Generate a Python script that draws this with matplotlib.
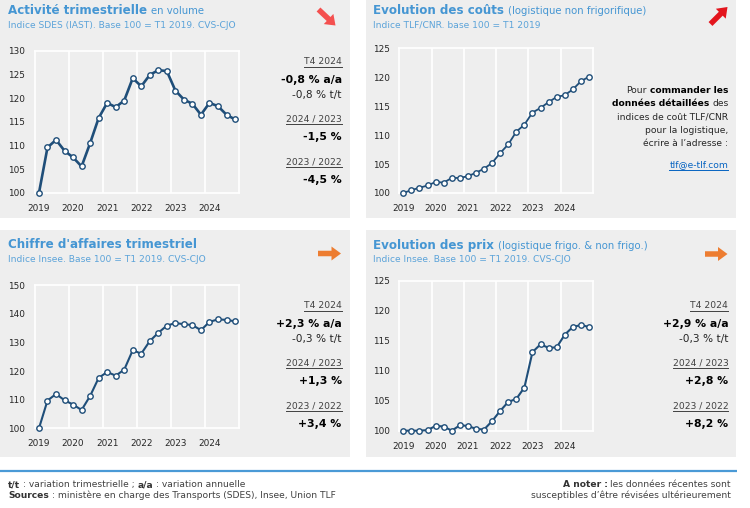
import matplotlib
matplotlib.use('Agg')
import matplotlib.pyplot as plt
from matplotlib.patches import Rectangle, FancyArrow

# données trimestrielles T1 2019 -> T4 2024
years = ['2019', '2020', '2021', '2022', '2023', '2024']

activite = [100.0, 109.6, 111.2, 108.9, 107.5, 105.6, 110.5, 115.8,
            119.0, 118.1, 119.5, 124.2, 122.5, 124.9, 125.9, 125.7,
            121.6, 119.7, 118.8, 116.5, 119.0, 118.3, 116.5, 115.5]
couts = [100.0, 100.5, 100.9, 101.3, 101.9, 101.8, 102.6, 102.6,
         102.9, 103.5, 104.2, 105.2, 106.9, 108.4, 110.6, 111.8,
         113.9, 114.7, 115.7, 116.6, 116.9, 117.9, 119.3, 120.1]
chiffre = [100.0, 109.7, 112.0, 109.8, 108.3, 106.4, 111.3, 117.6,
           119.7, 118.4, 120.5, 127.3, 126.1, 130.5, 133.4, 135.9,
           136.8, 136.4, 136.1, 134.3, 137.2, 138.1, 137.9, 137.4]
prix = [100.0, 100.0, 100.0, 100.1, 100.8, 100.7, 100.0, 100.9,
        100.8, 100.3, 100.2, 101.6, 103.3, 104.8, 105.3, 107.2,
        113.1, 114.4, 113.8, 113.9, 116.0, 117.3, 117.6, 117.3]

stats_activite = ['T4 2024', '-0,8 % a/a', '-0,8 % t/t', '2024 / 2023', '-1,5 %', '2023 / 2022', '-4,5 %']
stats_chiffre = ['T4 2024', '+2,3 % a/a', '-0,3 % t/t', '2024 / 2023', '+1,3 %', '2023 / 2022', '+3,4 %']
stats_prix = ['T4 2024', '+2,9 % a/a', '-0,3 % t/t', '2024 / 2023', '+2,8 %', '2023 / 2022', '+8,2 %']

W, H = 750, 508
TITLE = '#4596d3'
SUB = '#5ba3d9'
NAVY = '#1f4e79'
PANEL = '#eeeeee'
TXT = '#262626'

fig = plt.figure(figsize=(W / 100, H / 100), dpi=100)
bg = fig.add_axes([0, 0, 1, 1])
bg.set_xlim(0, W)
bg.set_ylim(H, 0)
bg.axis('off')
renderer = fig.canvas.get_renderer()

# fonds des panneaux
for x0, y0, x1, y1 in [(0, 0, 350, 218), (366, 0, 736, 218),
                       (0, 230, 350, 456.7), (366, 230, 736, 456.7)]:
    bg.add_patch(Rectangle((x0, y0), x1 - x0, y1 - y0, color=PANEL, lw=0))
bg.plot([0, 736.5], [471, 471], color='#4a9ad6', lw=1.6, solid_capstyle='butt')


def chart(l, t, r, b, values, ylo, yhi, ystep, lw):
    ax = fig.add_axes([l / W, 1 - b / H, (r - l) / W, (b - t) / H])
    ax.set_facecolor('none')
    x = range(len(values))
    ax.plot(x, values, color=NAVY, lw=lw, marker='o', ms=3.9, mfc='white',
            mec=NAVY, mew=1.0, clip_on=False, zorder=3)
    ax.set_xlim(-0.5, len(values) - 0.5)
    ax.set_ylim(ylo, yhi)
    ax.set_yticks(range(ylo, yhi + 1, ystep))
    ax.set_xticks(range(0, len(values), 4), years)
    ax.set_xticks([3.5 + 4 * k for k in range(5)], minor=True)
    ax.grid(True, which='minor', axis='x', color='white', lw=1.2)
    ax.tick_params(which='both', length=0, labelsize=6.4, colors=TXT)
    ax.tick_params(axis='y', pad=7)
    ax.tick_params(axis='x', pad=8)
    for s in ax.spines.values():
        s.set_color('white')
        s.set_linewidth(1.2)
    return ax


chart(34.7, 50.7, 239.3, 193, activite, 100, 130, 5, 1.9)
chart(399.3, 48.3, 593, 193, couts, 100, 125, 5, 1.3)
chart(34.7, 285.3, 239.3, 428.3, chiffre, 100, 150, 10, 1.5)
chart(399.3, 280.7, 593, 430.7, prix, 100, 125, 5, 1.5)


def segs(x, y, parts, ha='left', underline=False):
    # parts: (texte, taille, graisse, couleur), séparés par une espace
    items = []
    for s, size, weight, color in parts:
        t = bg.text(0, y, s, fontsize=size, fontweight=weight, color=color,
                    ha='left', va='center')
        w = t.get_window_extent(renderer).width
        items.append((t, w, size))
    gaps = [size * 0.318 * 100 / 72 for _, _, size in items[:-1]]
    total = sum(w for _, w, _ in items) + sum(gaps)
    cx = x if ha == 'left' else x - total
    for i, (t, w, size) in enumerate(items):
        t.set_x(cx)
        if underline:
            bb = t.get_window_extent(renderer)
            yy = H - bb.y0 + 0.5
            bg.plot([cx, cx + w], [yy, yy], color=t.get_color(), lw=0.7)
        cx += w + (gaps[i] if i < len(gaps) else 0)


def stats(xr, y0, vals):
    offs = [0, 18.2, 33, 56.7, 74.8, 100, 117.8]
    kinds = ['h', 'b', 'n', 'h', 'b', 'h', 'b']
    for off, kind, s in zip(offs, kinds, vals):
        if kind == 'h':
            segs(xr, y0 + off, [(s, 6.6, 'normal', '#404040')], ha='right', underline=True)
        elif kind == 'b':
            segs(xr, y0 + off, [(s, 7.8, 'bold', 'black')], ha='right')
        else:
            segs(xr, y0 + off, [(s, 7.6, 'normal', TXT)], ha='right')


# titres
segs(8, 11, [('Activité trimestrielle', 8.6, 'bold', TITLE), ('en volume', 7.3, 'normal', TITLE)])
segs(8, 25, [('Indice SDES (IAST). Base 100 = T1 2019. CVS-CJO', 6.6, 'normal', SUB)])
segs(373, 11, [('Evolution des coûts', 8.6, 'bold', TITLE), ('(logistique non frigorifique)', 7.3, 'normal', TITLE)])
segs(373, 25, [('Indice TLF/CNR. base 100 = T1 2019', 6.6, 'normal', SUB)])
segs(8, 245, [("Chiffre d'affaires trimestriel", 8.6, 'bold', TITLE)])
segs(8, 260, [('Indice Insee. Base 100 = T1 2019. CVS-CJO', 6.6, 'normal', SUB)])
segs(373, 245.7, [('Evolution des prix', 8.6, 'bold', TITLE), ('(logistique frigo. & non frigo.)', 7.3, 'normal', TITLE)])
segs(373, 259.7, [('Indice Insee. Base 100 = T1 2019. CVS-CJO', 6.6, 'normal', SUB)])

stats(341.7, 62, stats_activite)
stats(341.7, 306, stats_chiffre)
stats(728.3, 306, stats_prix)

# encadré coûts
xr = 728.3
segs(xr, 90.7, [('Pour', 6.6, 'normal', TXT), ('commander les', 6.6, 'bold', 'black')], ha='right')
segs(xr, 104, [('données détaillées', 6.6, 'bold', 'black'), ('des', 6.6, 'normal', TXT)], ha='right')
segs(xr, 117.3, [('indices de coût TLF/CNR', 6.6, 'normal', TXT)], ha='right')
segs(xr, 130.7, [('pour la logistique,', 6.6, 'normal', TXT)], ha='right')
segs(xr, 144, [('écrire à l’adresse :', 6.6, 'normal', TXT)], ha='right')
segs(xr, 164.7, [('tlf@e-tlf.com', 6.6, 'normal', '#0563c1')], ha='right', underline=True)

# flèches de tendance
arrows = [((318.5, 9.5), (335.5, 25.5), '#f4504f'),
          ((710.5, 24), (727.5, 7), '#e3151d'),
          ((318, 253.5), (341, 253.5), '#ed7d31'),
          ((705, 254), (727.5, 254), '#ed7d31')]
for (x0, y0), (x1, y1), c in arrows:
    bg.add_patch(FancyArrow(x0, y0, x1 - x0, y1 - y0, width=5.5, head_width=14,
                            head_length=9.5, length_includes_head=True, color=c, lw=0))

# pied de page
FS = 6.6
segs(8.3, 484.5, [('t/t', FS, 'bold', '#333333'), (': variation trimestrielle ;', FS, 'normal', '#404040'),
                  ('a/a', FS, 'bold', '#333333'), (': variation annuelle', FS, 'normal', '#404040')])
segs(8.3, 495.5, [('Sources', FS, 'bold', '#333333'),
                  (': ministère en charge des Transports (SDES), Insee, Union TLF', FS, 'normal', '#404040')])
segs(731, 484.5, [('A noter :', FS, 'bold', '#333333'), ('les données récentes sont', FS, 'normal', '#404040')], ha='right')
segs(731, 495.5, [('susceptibles d’être révisées ultérieurement', FS, 'normal', '#404040')], ha='right')

fig.savefig('out.png', dpi=100)
